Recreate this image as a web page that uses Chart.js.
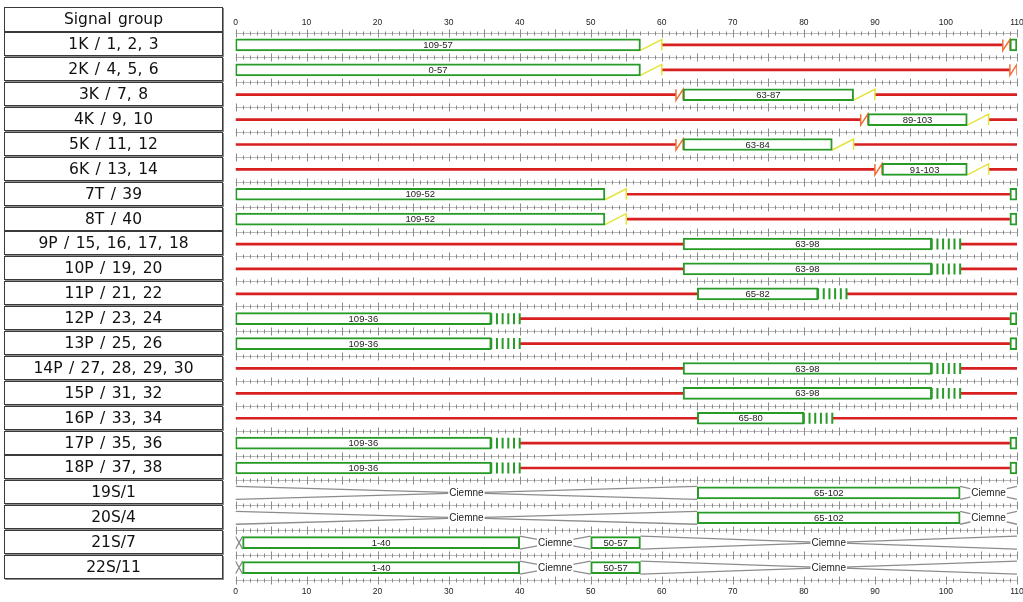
<!DOCTYPE html>
<html>
<head>
<meta charset="utf-8">
<script src="https://cdn.jsdelivr.net/npm/chart.js@4.4.1/dist/chart.umd.min.js"></script>
<style>
  html, body { margin: 0; padding: 0; background: #fff; }
  #wrap { position: relative; width: 1023px; height: 602px; overflow: hidden; }
  #chart { position: absolute; left: 0; top: 0; }
  .cell {
    position: absolute; left: 4px; width: 219px; box-sizing: border-box;
    border: 1px solid #3a3a3a; box-shadow: 1px 1px 0 #8a8a8a; background: #fff;
    font-family: 'DejaVu Sans', Verdana, sans-serif; font-size: 15.5px; color: #111;
    word-spacing: 1.5px;
    display: flex; align-items: center; justify-content: center; white-space: nowrap;
  }
</style>
</head>
<body>
<div id="wrap">
  <canvas id="chart" width="1023" height="602" style="width:1023px;height:602px"></canvas>
</div>
<script>
const cycleLength = 110;
const tickStep = 10;

const groups = ['1K / 1, 2, 3', '2K / 4, 5, 6', '3K / 7, 8', '4K / 9, 10', '5K / 11, 12',
  '6K / 13, 14', '7T / 39', '8T / 40', '9P / 15, 16, 17, 18', '10P / 19, 20', '11P / 21, 22',
  '12P / 23, 24', '13P / 25, 26', '14P / 27, 28, 29, 30', '15P / 31, 32', '16P / 33, 34',
  '17P / 35, 36', '18P / 37, 38', '19S/1', '20S/4', '21S/7', '22S/11'];

// [row, start, end, label]
const greenPhases = [
  [0, 0, 57, '109-57'], [0, 109, 110, ''],
  [1, 0, 57, '0-57'],
  [2, 63, 87, '63-87'],
  [3, 89, 103, '89-103'],
  [4, 63, 84, '63-84'],
  [5, 91, 103, '91-103'],
  [6, 0, 52, '109-52'], [6, 109, 110, ''],
  [7, 0, 52, '109-52'], [7, 109, 110, ''],
  [8, 63, 98, '63-98'],
  [9, 63, 98, '63-98'],
  [10, 65, 82, '65-82'],
  [11, 0, 36, '109-36'], [11, 109, 110, ''],
  [12, 0, 36, '109-36'], [12, 109, 110, ''],
  [13, 63, 98, '63-98'],
  [14, 63, 98, '63-98'],
  [15, 65, 80, '65-80'],
  [16, 0, 36, '109-36'], [16, 109, 110, ''],
  [17, 0, 36, '109-36'], [17, 109, 110, ''],
  [18, 65, 102, '65-102'],
  [19, 65, 102, '65-102'],
  [20, 1, 40, '1-40'], [20, 50, 57, '50-57'],
  [21, 1, 40, '1-40'], [21, 50, 57, '50-57']
];

// [row, start, end]
const amberPhases = [[0, 57, 60], [1, 57, 60], [2, 87, 90], [3, 103, 106], [4, 84, 87],
  [5, 103, 106], [6, 52, 55], [7, 52, 55]];

const redAmberPhases = [[0, 108, 109], [1, 109, 110], [2, 62, 63], [3, 88, 89], [4, 62, 63], [5, 90, 91]];

const redPhases = [
  [0, 60, 108], [1, 60, 109],
  [2, 0, 62], [2, 90, 110],
  [3, 0, 88], [3, 106, 110],
  [4, 0, 62], [4, 87, 110],
  [5, 0, 90], [5, 106, 110],
  [6, 55, 109], [7, 55, 109],
  [8, 0, 63], [8, 102, 110],
  [9, 0, 63], [9, 102, 110],
  [10, 0, 65], [10, 86, 110],
  [11, 40, 109], [12, 40, 109],
  [13, 0, 63], [13, 102, 110],
  [14, 0, 63], [14, 102, 110],
  [15, 0, 65], [15, 84, 110],
  [16, 40, 109], [17, 40, 109]
];

const flashPhases = [[8, 98, 102], [9, 98, 102], [10, 82, 86], [11, 36, 40], [12, 36, 40],
  [13, 98, 102], [14, 98, 102], [15, 80, 84], [16, 36, 40], [17, 36, 40]];
const flashStep = 0.8;

const darkPhases = [[18, 0, 65], [18, 102, 110], [19, 0, 65], [19, 102, 110],
  [20, 0, 1], [20, 40, 50], [20, 57, 110], [21, 0, 1], [21, 40, 50], [21, 57, 110]];
const darkLabel = 'Ciemne';

// left table
const wrap = document.getElementById('wrap');
function addCell(text, top, height) {
  const d = document.createElement('div');
  d.className = 'cell';
  d.style.top = top + 'px';
  d.style.height = height + 'px';
  d.textContent = text;
  wrap.appendChild(d);
}
addCell('Signal group', 7, 24.5);
groups.forEach((g, i) => addCell(g, 32.3 + i * 24.89, 24));

const half = 0.22;
const gap = (x) => ({ x: x, y: null });

const redData = [];
redPhases.forEach(([r, s, e]) => { redData.push({ x: s, y: r }, { x: e, y: r }, gap(e)); });

const amberData = [];
amberPhases.forEach(([r, s, e]) => {
  amberData.push({ x: s, y: r + half }, { x: e, y: r - half }, { x: e, y: r + half }, gap(e));
});

const redAmberData = [];
redAmberPhases.forEach(([r, s, e]) => {
  redAmberData.push({ x: s, y: r - half }, { x: s, y: r + half }, { x: e, y: r - half }, { x: e, y: r + half }, gap(e));
});

const flashData = [];
flashPhases.forEach(([r, s, e]) => {
  for (let v = s; v <= e + 0.01; v += flashStep) {
    flashData.push({ x: v, y: r - half }, { x: v, y: r + half }, gap(v));
  }
});

const darkData = [];
darkPhases.forEach(([r, s, e]) => {
  const m = (s + e) / 2;
  darkData.push({ x: s, y: r - 0.26 }, { x: m, y: r }, { x: e, y: r - 0.26 }, gap(e));
  darkData.push({ x: s, y: r + 0.26 }, { x: m, y: r }, { x: e, y: r + 0.26 }, gap(e));
});

const rulerPlugin = {
  id: 'rulers',
  beforeDatasetsDraw(chart) {
    const { ctx, scales: { x, y } } = chart;
    ctx.save();
    ctx.lineWidth = 1;
    for (let k = 0; k <= groups.length; k++) {
      const py = Math.round(y.getPixelForValue(k - 0.5)) + 0.5;
      ctx.strokeStyle = '#b8b8b8';
      ctx.beginPath();
      ctx.moveTo(x.left, py);
      ctx.lineTo(x.right + 1, py);
      ctx.stroke();
      ctx.strokeStyle = '#8a8a8a';
      ctx.beginPath();
      for (let v = 0; v <= cycleLength; v++) {
        const px = Math.round(x.getPixelForValue(v)) + 0.5;
        const len = v % 5 === 0 ? 4 : 2;
        ctx.moveTo(px, py - len);
        ctx.lineTo(px, py + len);
      }
      ctx.stroke();
    }
    ctx.restore();
  }
};

const labelPlugin = {
  id: 'phaseLabels',
  afterDatasetsDraw(chart) {
    const { ctx, scales: { x, y } } = chart;
    ctx.save();
    ctx.textAlign = 'center';
    ctx.textBaseline = 'middle';
    ctx.fillStyle = '#222';
    ctx.font = '9.5px "Liberation Sans", Arial, sans-serif';
    chart.getDatasetMeta(0).data.forEach((bar, i) => {
      const label = greenPhases[i][3];
      if (label) ctx.fillText(label, (bar.x + bar.base) / 2, bar.y + 0.5);
    });
    ctx.font = '10px "Liberation Sans", Arial, sans-serif';
    darkPhases.forEach(([r, s, e]) => {
      if (e - s < 3) return;
      const px = x.getPixelForValue((s + e) / 2);
      const py = y.getPixelForValue(r);
      const w = ctx.measureText(darkLabel).width;
      ctx.fillStyle = '#fff';
      ctx.fillRect(px - w / 2 - 1, py - 5, w + 2, 10);
      ctx.fillStyle = '#222';
      ctx.fillText(darkLabel, px, py + 0.5);
    });
    ctx.restore();
  }
};

const tickFont = { family: '"Liberation Sans", Arial, sans-serif', size: 8.5 };

new Chart(document.getElementById('chart'), {
  type: 'bar',
  data: {
    datasets: [
      {
        type: 'bar',
        indexAxis: 'y',
        data: greenPhases.map(([r, s, e]) => ({ x: [s, e], y: r })),
        backgroundColor: '#ffffff',
        borderColor: '#279a27',
        borderWidth: 2,
        borderSkipped: false,
        barThickness: 12,
        grouped: false,
        xAxisID: 'x',
        yAxisID: 'y'
      },
      { type: 'line', data: flashData, borderColor: '#279a27', borderWidth: 2, pointRadius: 0, spanGaps: false },
      { type: 'line', data: amberData, borderColor: '#e4e43a', borderWidth: 1.5, pointRadius: 0, spanGaps: false },
      { type: 'line', data: redAmberData, borderColor: '#f07038', borderWidth: 1.5, pointRadius: 0, spanGaps: false },
      { type: 'line', data: redData, borderColor: '#d92020', borderWidth: 2.7, pointRadius: 0, spanGaps: false },
      { type: 'line', data: darkData, borderColor: '#8c8c8c', borderWidth: 1.3, pointRadius: 0, spanGaps: false }
    ]
  },
  options: {
    responsive: false,
    animation: false,
    events: [],
    layout: { padding: { left: 235.5, right: 6, top: 0, bottom: 0 } },
    plugins: { legend: { display: false }, tooltip: { enabled: false } },
    scales: {
      x: {
        type: 'linear', position: 'bottom', min: 0, max: cycleLength, offset: false,
        ticks: { stepSize: tickStep, font: tickFont, color: '#222', padding: 7, maxRotation: 0, autoSkip: false },
        grid: { display: false, drawTicks: false, offset: false },
        border: { display: false },
        afterFit(s) { s.height = 22; s.paddingLeft = 0; s.paddingRight = 0; }
      },
      x2: {
        type: 'linear', axis: 'x', position: 'top', min: 0, max: cycleLength, offset: false,
        ticks: { stepSize: tickStep, font: tickFont, color: '#222', padding: 4.5, maxRotation: 0, autoSkip: false },
        grid: { display: false, drawTicks: false, offset: false },
        border: { display: false },
        afterFit(s) { s.height = 32.5; s.paddingLeft = 0; s.paddingRight = 0; }
      },
      y: {
        type: 'linear', min: -0.5, max: groups.length - 0.5, reverse: true, display: false,
        offset: false, grid: { offset: false }
      }
    }
  },
  plugins: [rulerPlugin, labelPlugin]
});
</script>
</body>
</html>
